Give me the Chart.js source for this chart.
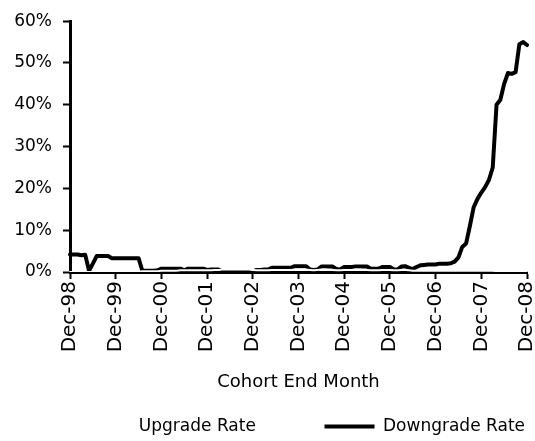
<!DOCTYPE html>
<html>
<head>
<meta charset="utf-8">
<script src="https://cdn.jsdelivr.net/npm/chart.js@4.4.1/dist/chart.umd.min.js"></script>
<style>
  html, body { margin: 0; padding: 0; background: #fff; }
  #wrap { width: 535px; height: 441px; }
</style>
</head>
<body>
<div id="wrap"><canvas id="c" width="535" height="441"></canvas></div>
<script>
// Categories: monthly cohort end months, Dec-98 .. Dec-08
const monthNames = ['Jan','Feb','Mar','Apr','May','Jun','Jul','Aug','Sep','Oct','Nov','Dec'];
const startYear = 1998, startMonth = 11, monthCount = 121;
const months = [];
for (let i = 0; i < monthCount; i++) {
  const m = (startMonth + i) % 12;
  const y = startYear + Math.floor((startMonth + i) / 12);
  months.push(monthNames[m] + '-' + String(y % 100).padStart(2, '0'));
}

// Series values (%)
const downgradeRate = [
  4.2, 4.2, 4.2, 4.0, 4.1, 0.3, 2.0, 3.8, 3.8, 3.8, 3.8, 3.3,
  3.3, 3.3, 3.3, 3.3, 3.3, 3.3, 3.3, 0.3, 0.3, 0.3, 0.3, 0.4,
  0.8, 0.8, 0.8, 0.8, 0.8, 0.8, 0.4, 0.8, 0.8, 0.8, 0.8, 0.8,
  0.5, 0.6, 0.6, 0.6, 0.1, 0.1, 0.1, 0.1, 0.1, 0.1, 0.1, 0.1,
  0.1, 0.5, 0.5, 0.6, 0.6, 1.0, 1.0, 1.0, 1.0, 1.0, 1.0, 1.4,
  1.4, 1.4, 1.4, 0.6, 0.5, 0.6, 1.3, 1.3, 1.3, 1.3, 0.7, 0.6,
  1.2, 1.2, 1.2, 1.3, 1.3, 1.3, 1.3, 0.8, 0.8, 0.8, 1.2, 1.2,
  1.2, 0.6, 0.6, 1.3, 1.4, 1.0, 0.7, 1.2, 1.6, 1.7, 1.8, 1.8,
  1.8, 2.0, 2.0, 2.0, 2.1, 2.5, 3.5, 6.0, 6.8, 11.0, 15.5, 17.5,
  19.0, 20.3, 22.0, 25.0, 40.0, 41.2, 45.0, 47.6, 47.4, 47.8, 54.5, 55.0,
  54.3
];
const upgradeRate = [
  0.0, 0.0, 0.0, 0.0, 0.0, 0.0, 0.0, 0.0, 0.0, 0.0, 0.0, 0.0,
  0.0, 0.0, 0.0, 0.0, 0.0, 0.0, 0.0, 0.2, 0.2, 0.2, 0.2, 0.2,
  0.3, 0.3, 0.3, 0.3, 0.3, 0.4, 0.4, 0.4, 0.4, 0.4, 0.4, 0.4,
  0.4, 0.4, 0.5, 0.5, 0.6, 0.6, 0.6, 0.6, 0.6, 0.6, 0.6, 0.6,
  0.5, 0.4, 0.4, 0.4, 0.4, 0.5, 0.5, 0.5, 0.5, 0.5, 0.5, 0.6,
  0.6, 0.6, 0.6, 0.5, 0.4, 0.5, 0.6, 0.6, 0.5, 0.5, 0.4, 0.4,
  0.5, 0.5, 0.5, 0.6, 0.6, 0.5, 0.5, 0.4, 0.4, 0.4, 0.5, 0.5,
  0.5, 0.4, 0.4, 0.5, 0.5, 0.4, 0.3, 0.3, 0.3, 0.3, 0.3, 0.3,
  0.3, 0.3, 0.3, 0.3, 0.3, 0.3, 0.3, 0.3, 0.3, 0.3, 0.3, 0.3,
  0.3, 0.3, 0.3, 0.3, 0.2, 0.0, 0.0, 0.0, 0.0, 0.0, 0.0, 0.0,
  0.0
];

// Tick labels
const xTickLabels = ['Dec-98','Dec-99','Dec-00','Dec-01','Dec-02','Dec-03','Dec-04','Dec-05','Dec-06','Dec-07','Dec-08'];
const yTicks = [0, 10, 20, 30, 40, 50, 60];
const seriesNames = ['Upgrade Rate', 'Downgrade Rate'];
const xTitle = 'Cohort End Month';

const FONT = 'DejaVu Sans';

new Chart(document.getElementById('c'), {
  type: 'line',
  data: {
    labels: months,
    datasets: [
      {
        label: seriesNames[0],
        data: upgradeRate,
        borderColor: '#ffffff',
        backgroundColor: '#ffffff',
        borderWidth: 2,
        pointRadius: 0,
        tension: 0,
        borderJoinStyle: 'round',
        borderCapStyle: 'round'
      },
      {
        label: seriesNames[1],
        data: downgradeRate,
        borderColor: '#000000',
        backgroundColor: '#000000',
        borderWidth: 4,
        pointRadius: 0,
        tension: 0,
        borderJoinStyle: 'round',
        borderCapStyle: 'round'
      }
    ]
  },
  options: {
    responsive: false,
    animation: false,
    devicePixelRatio: 1,
    layout: { padding: { left: 14, right: -10, top: 12, bottom: -4 } },
    plugins: {
      tooltip: { enabled: false },
      legend: {
        position: 'bottom',
        align: 'end',
        labels: {
          color: '#000',
          font: { family: FONT, size: 17 },
          boxWidth: 50,
          boxHeight: 4,
          padding: 20,
          generateLabels(chart) {
            const items = Chart.defaults.plugins.legend.labels.generateLabels(chart);
            items.forEach((it, i) => {
              it.lineWidth = 0;
              it.fillStyle = it.strokeStyle;
              if (i === 0) it.text = it.text + '\u00a0'.repeat(9);
            });
            return items;
          }
        }
      }
    },
    scales: {
      x: {
        type: 'category',
        offset: false,
        border: { display: true, color: '#000', width: 3 },
        grid: {
          drawOnChartArea: false,
          drawTicks: true,
          tickLength: 7,
          tickWidth: 2,
          tickColor: '#000'
        },
        afterFit(s) { s.height = 126; s.paddingRight = 8; s.paddingLeft = 0; },
        ticks: {
          autoSkip: false,
          minRotation: 90,
          maxRotation: 90,
          padding: 2,
          color: '#000',
          font: { family: FONT, size: 20, lineHeight: 1 },
          callback(value, index) {
            const lab = months[index];
            return xTickLabels.includes(lab) ? lab : null;
          }
        },
        title: {
          display: true,
          text: xTitle,
          color: '#000',
          font: { family: FONT, size: 18 },
          padding: { top: 18, bottom: 5 }
        }
      },
      y: {
        min: yTicks[0],
        max: yTicks[yTicks.length - 1],
        border: { display: true, color: '#000', width: 3 },
        grid: {
          drawOnChartArea: false,
          drawTicks: true,
          tickLength: 7,
          tickWidth: 2,
          tickColor: '#000'
        },
        afterFit(s) { s.width = 56; },
        afterBuildTicks(scale) { scale.ticks = yTicks.map(v => ({ value: v })); },
        ticks: {
          padding: 11,
          color: '#000',
          font: { family: FONT, size: 17 },
          callback: v => v + '%'
        }
      }
    }
  }
});
</script>
</body>
</html>
